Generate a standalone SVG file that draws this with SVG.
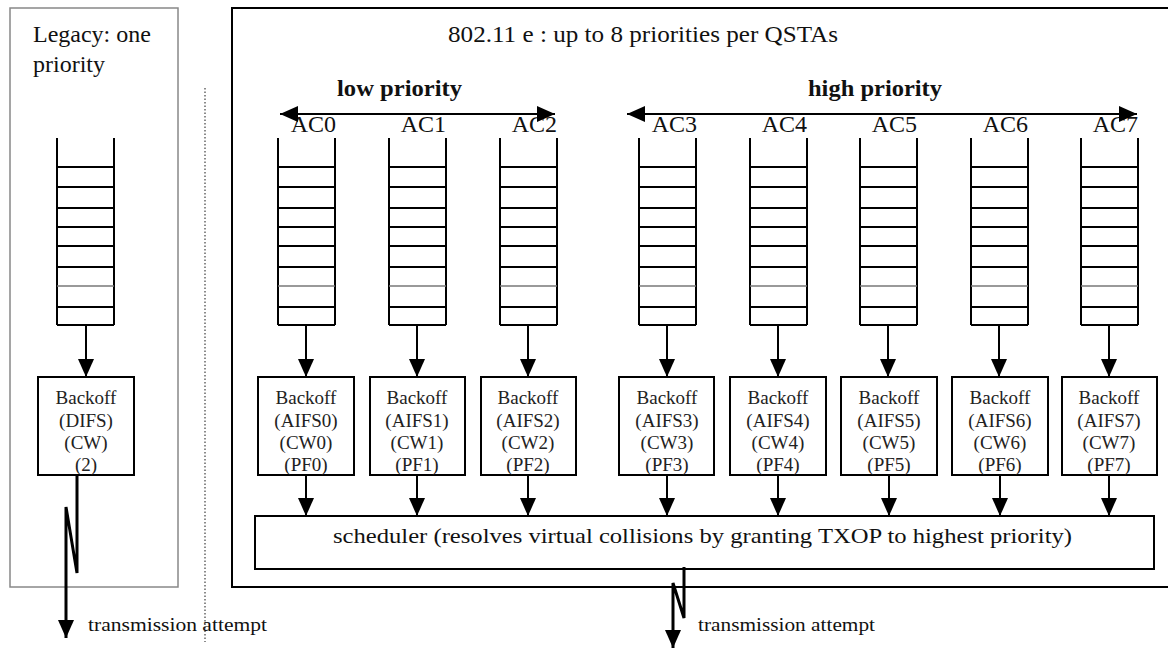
<svg xmlns="http://www.w3.org/2000/svg" width="1168" height="650" viewBox="0 0 1168 650">
<defs>
<marker id="ah" viewBox="0 0 18 16" refX="18" refY="8" markerWidth="18" markerHeight="16" markerUnits="userSpaceOnUse" orient="auto-start-reverse"><path d="M0,0 L18,8 L0,16 z" fill="#000"/></marker>
<g id="q">
<path d="M0,0 V187 M57,0 V187 M0,187 H57 M0,29 H57 M0,49 H57 M0,70 H57 M0,89 H57 M0,108 H57 M0,129 H57 M0,169 H57" fill="none" stroke="#000" stroke-width="2"/>
<path d="M0,148 H57" stroke="#777" stroke-width="1.5"/>
</g>
</defs>
<style>
text{font-family:'Liberation Serif','DejaVu Serif',serif;fill:#111}
.box{fill:#fff;stroke:#000;stroke-width:2}
.bt{font-size:19px;text-anchor:middle;fill:#222}
.ac{font-size:24px;text-anchor:end}
.big{font-size:24px}
.bold{font-size:24px;font-weight:bold}
.tx{font-size:18px}
.con{stroke:#000;stroke-width:2;fill:none;marker-end:url(#ah)}
.bolt{stroke:#000;stroke-width:3;fill:none}
</style>
<rect width="1168" height="650" fill="#fff"/>

<g id="legacy-frame">
<rect x="10" y="8" width="168" height="579" fill="none" stroke="#888" stroke-width="1.5"/>
<text class="big" x="33" y="42">Legacy: one</text>
<text class="big" x="33" y="72">priority</text>
</g>
<path d="M205,88 V642" stroke="#666" stroke-width="1.5" stroke-dasharray="1.5,2"/>

<g id="edca-frame">
<rect x="232" y="8" width="950" height="579" fill="none" stroke="#000" stroke-width="2"/>
<text class="big" x="448" y="42" textLength="390" lengthAdjust="spacingAndGlyphs">802.11 e : up  to 8 priorities per QSTAs</text>
<text class="bold" x="337" y="96" textLength="125" lengthAdjust="spacingAndGlyphs">low priority</text>
<text class="bold" x="808" y="96" textLength="134" lengthAdjust="spacingAndGlyphs">high priority</text>
</g>

<g id="legacy-queue"><use href="#q" x="57" y="138"/></g>
<g id="legacy-backoff"><rect class="box" x="38" y="377" width="96" height="98"/>
<text class="bt" x="86" y="404">Backoff</text><text class="bt" x="86" y="427">(DIFS)</text><text class="bt" x="86" y="449">(CW)</text><text class="bt" x="86" y="471">(2)</text></g>

<g id="ac0"><text class="ac" x="336" y="132">AC0</text><use href="#q" x="278" y="138"/></g>
<g id="ac1"><text class="ac" x="446" y="132">AC1</text><use href="#q" x="389" y="138"/></g>
<g id="ac2"><text class="ac" x="557" y="132">AC2</text><use href="#q" x="500" y="138"/></g>
<g id="ac3"><text class="ac" x="697" y="132">AC3</text><use href="#q" x="639" y="138"/></g>
<g id="ac4"><text class="ac" x="807" y="132">AC4</text><use href="#q" x="750" y="138"/></g>
<g id="ac5"><text class="ac" x="917" y="132">AC5</text><use href="#q" x="860" y="138"/></g>
<g id="ac6"><text class="ac" x="1028" y="132">AC6</text><use href="#q" x="971" y="138"/></g>
<g id="ac7"><text class="ac" x="1138" y="132">AC7</text><use href="#q" x="1081" y="138"/></g>

<g id="backoff0"><rect class="box" x="258" y="377" width="96" height="98"/><text class="bt" x="306" y="404">Backoff</text><text class="bt" x="306" y="427">(AIFS0)</text><text class="bt" x="306" y="449">(CW0)</text><text class="bt" x="306" y="471">(PF0)</text></g>
<g id="backoff1"><rect class="box" x="370" y="377" width="95" height="98"/><text class="bt" x="417" y="404">Backoff</text><text class="bt" x="417" y="427">(AIFS1)</text><text class="bt" x="417" y="449">(CW1)</text><text class="bt" x="417" y="471">(PF1)</text></g>
<g id="backoff2"><rect class="box" x="481" y="377" width="95" height="98"/><text class="bt" x="528" y="404">Backoff</text><text class="bt" x="528" y="427">(AIFS2)</text><text class="bt" x="528" y="449">(CW2)</text><text class="bt" x="528" y="471">(PF2)</text></g>
<g id="backoff3"><rect class="box" x="619" y="377" width="95" height="98"/><text class="bt" x="667" y="404">Backoff</text><text class="bt" x="667" y="427">(AIFS3)</text><text class="bt" x="667" y="449">(CW3)</text><text class="bt" x="667" y="471">(PF3)</text></g>
<g id="backoff4"><rect class="box" x="730" y="377" width="96" height="98"/><text class="bt" x="778" y="404">Backoff</text><text class="bt" x="778" y="427">(AIFS4)</text><text class="bt" x="778" y="449">(CW4)</text><text class="bt" x="778" y="471">(PF4)</text></g>
<g id="backoff5"><rect class="box" x="841" y="377" width="96" height="98"/><text class="bt" x="889" y="404">Backoff</text><text class="bt" x="889" y="427">(AIFS5)</text><text class="bt" x="889" y="449">(CW5)</text><text class="bt" x="889" y="471">(PF5)</text></g>
<g id="backoff6"><rect class="box" x="952" y="377" width="96" height="98"/><text class="bt" x="1000" y="404">Backoff</text><text class="bt" x="1000" y="427">(AIFS6)</text><text class="bt" x="1000" y="449">(CW6)</text><text class="bt" x="1000" y="471">(PF6)</text></g>
<g id="backoff7"><rect class="box" x="1062" y="377" width="95" height="98"/><text class="bt" x="1109" y="404">Backoff</text><text class="bt" x="1109" y="427">(AIFS7)</text><text class="bt" x="1109" y="449">(CW7)</text><text class="bt" x="1109" y="471">(PF7)</text></g>

<g id="scheduler"><rect class="box" x="255" y="516" width="899" height="53"/>
<text x="333" y="543" style="font-size:22px" textLength="739" lengthAdjust="spacingAndGlyphs">scheduler (resolves virtual collisions by granting TXOP to highest priority)</text></g>

<g id="connectors">
<path class="con" d="M280,114 H555" style="marker-start:url(#ah)"/>
<path class="con" d="M627,114 H1137" style="marker-start:url(#ah)"/>
<path class="con" d="M86,325 V377"/>
<path class="con" d="M306,325 V377"/>
<path class="con" d="M417,325 V377"/>
<path class="con" d="M528,325 V377"/>
<path class="con" d="M667,325 V377"/>
<path class="con" d="M778,325 V377"/>
<path class="con" d="M888,325 V377"/>
<path class="con" d="M999,325 V377"/>
<path class="con" d="M1109,325 V377"/>
<path class="con" d="M306,476 V516"/>
<path class="con" d="M417,476 V516"/>
<path class="con" d="M528,476 V516"/>
<path class="con" d="M667,476 V516"/>
<path class="con" d="M778,476 V516"/>
<path class="con" d="M889,476 V516"/>
<path class="con" d="M1000,476 V516"/>
<path class="con" d="M1109,476 V516"/>
<path class="bolt" d="M77,476 V573 L66,507 V638" style="marker-end:url(#ah)"/>
<path class="bolt" d="M684,567 V618 L673,583 V648" style="marker-end:url(#ah)"/>
</g>
<text class="tx" x="88" y="631" textLength="179" lengthAdjust="spacingAndGlyphs">transmission attempt</text>
<text class="tx" x="698" y="631" textLength="177" lengthAdjust="spacingAndGlyphs">transmission attempt</text>
</svg>
